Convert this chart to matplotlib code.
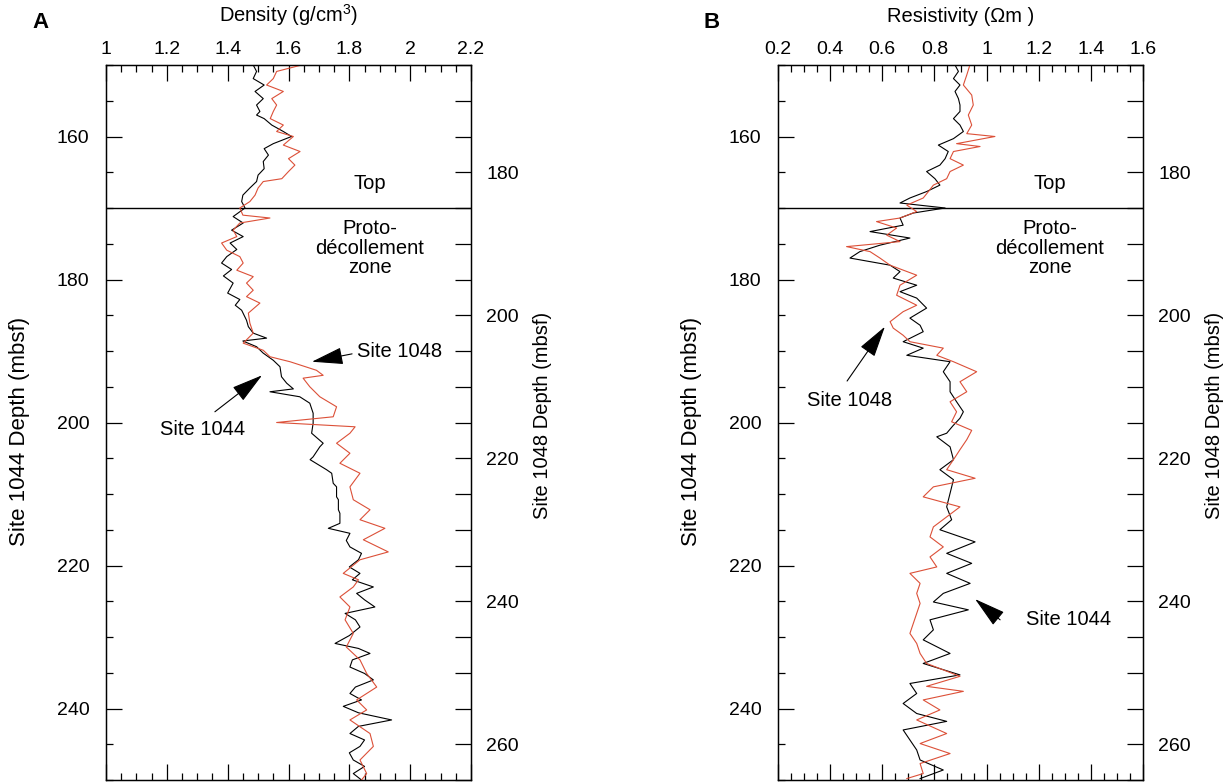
import numpy as np
import matplotlib
matplotlib.use('Agg')
import matplotlib.pyplot as plt
from matplotlib.ticker import MultipleLocator, FuncFormatter

plt.rcParams['font.family'] = ['Liberation Sans', 'DejaVu Sans']
plt.rcParams['mathtext.fontset'] = 'custom'
plt.rcParams['mathtext.rm'] = 'Liberation Sans'

# ---- Panel A: density ----
# Site 1044 (depth in Site 1044 mbsf)
dens_1044_depth = [150.0, 150.9, 151.9, 152.8, 153.7, 154.7, 155.6, 156.5, 157.0, 157.5,
                   158.4, 159.3, 160.0, 161.0, 161.7, 162.6, 163.5, 164.5, 165.4, 166.3,
                   167.2, 168.2, 169.1, 170.0, 171.2, 172.1, 173.1, 174.0, 174.9, 175.8,
                   176.8, 177.7, 178.6, 179.5, 180.5, 181.9, 182.8, 183.6, 184.3, 185.7,
                   186.6, 187.5, 188.2, 188.6, 189.4, 190.3, 191.3, 192.2, 193.6, 194.5,
                   195.3, 195.7, 196.4, 197.3, 198.7, 200.1, 201.5, 202.9, 203.4, 204.8,
                   205.2, 206.6, 207.1, 208.5, 209.0, 210.4, 210.8, 212.2, 212.7, 214.1,
                   214.8, 215.5, 216.5, 217.4, 218.3, 219.2, 220.2, 221.1, 222.0, 223.0,
                   223.9, 224.8, 225.8, 226.7, 227.6, 228.6, 229.8, 230.9, 231.6, 232.3,
                   233.2, 234.2, 235.1, 236.0, 237.0, 237.9, 238.8, 239.7, 240.6, 241.6,
                   242.5, 243.5, 244.4, 245.3, 246.2, 247.2, 248.1, 249.1, 250.0]
dens_1044 = [1.484, 1.495, 1.484, 1.52, 1.49, 1.517, 1.495, 1.506, 1.495, 1.52,
             1.545, 1.583, 1.61, 1.55, 1.52, 1.534, 1.517, 1.52, 1.50, 1.495,
             1.473, 1.45, 1.446, 1.457, 1.418, 1.451, 1.413, 1.451, 1.408, 1.43,
             1.397, 1.38, 1.413, 1.386, 1.418, 1.40, 1.44, 1.425, 1.446, 1.462,
             1.468, 1.484, 1.528, 1.45, 1.495, 1.517, 1.55, 1.572, 1.577, 1.594,
             1.616, 1.539, 1.637, 1.67, 1.681, 1.681, 1.676, 1.714, 1.703, 1.681,
             1.671, 1.725, 1.742, 1.747, 1.758, 1.758, 1.764, 1.764, 1.769, 1.769,
             1.731, 1.802, 1.79, 1.802, 1.84, 1.83, 1.80, 1.835, 1.81, 1.879,
             1.824, 1.85, 1.884, 1.786, 1.82, 1.835, 1.80, 1.753, 1.83, 1.868,
             1.81, 1.802, 1.85, 1.879, 1.82, 1.802, 1.84, 1.78, 1.83, 1.939,
             1.83, 1.802, 1.85, 1.835, 1.80, 1.813, 1.85, 1.813, 1.84]

# Site 1048 (depth in Site 1048 mbsf)
dens_1048_depth = [165.0, 165.9, 166.9, 167.8, 168.7, 169.7, 170.6, 171.5, 172.5, 173.4,
                   174.3, 175.0, 176.2, 177.1, 178.1, 179.0, 179.9, 180.9, 181.3, 182.2,
                   183.2, 184.1, 185.0, 186.0, 186.4, 187.1, 188.1, 189.0, 189.9, 190.9,
                   191.8, 192.7, 193.7, 194.6, 195.5, 196.5, 197.4, 198.3, 199.7, 201.1,
                   202.5, 203.9, 204.9, 205.8, 206.5, 207.7, 208.4, 208.8, 210.0, 211.4,
                   212.8, 214.2, 215.0, 215.6, 216.5, 217.9, 219.3, 220.7, 222.1, 224.0,
                   225.8, 227.2, 228.6, 229.8, 231.4, 233.1, 234.2, 236.1, 237.0, 238.0,
                   239.4, 240.8, 242.6, 244.5, 246.4, 248.2, 250.1, 252.0, 253.8, 255.2,
                   256.6, 258.5, 260.3, 262.2, 264.1, 265.0]
dens_1048 = [1.643, 1.561, 1.55, 1.528, 1.583, 1.545, 1.561, 1.55, 1.54, 1.583,
             1.561, 1.616, 1.583, 1.638, 1.60, 1.621, 1.60, 1.578, 1.517, 1.50,
             1.49, 1.473, 1.44, 1.45, 1.539, 1.44, 1.418, 1.43, 1.38, 1.397,
             1.44, 1.451, 1.43, 1.484, 1.462, 1.484, 1.462, 1.506, 1.468, 1.473,
             1.484, 1.451, 1.517, 1.539, 1.605, 1.692, 1.714, 1.648, 1.67, 1.703,
             1.758, 1.747, 1.561, 1.819, 1.802, 1.758, 1.802, 1.769, 1.835, 1.802,
             1.813, 1.868, 1.835, 1.917, 1.846, 1.928, 1.835, 1.78, 1.83, 1.813,
             1.769, 1.802, 1.786, 1.813, 1.79, 1.835, 1.857, 1.89, 1.824, 1.857,
             1.802, 1.868, 1.879, 1.835, 1.857, 1.84]

# ---- Panel B: resistivity ----
res_1044_depth = [150.0, 150.9, 151.9, 152.8, 153.7, 154.7, 155.6, 156.5, 157.5, 158.4,
                  159.3, 160.3, 161.2, 162.1, 163.1, 164.0, 164.9, 165.9, 166.8, 167.7,
                  168.6, 169.3, 170.0, 170.7, 171.4, 172.4, 173.3, 174.2, 175.2, 176.1,
                  177.0, 178.0, 178.9, 179.8, 180.8, 181.7, 182.6, 184.0, 185.4, 186.4,
                  187.3, 188.7, 189.6, 190.6, 191.5, 192.9, 194.3, 195.7, 197.1, 198.5,
                  199.4, 200.5, 201.5, 202.0, 203.4, 205.2, 206.6, 208.0, 209.9, 211.8,
                  213.6, 215.0, 216.7, 218.3, 219.7, 221.1, 222.5, 223.9, 225.1, 226.2,
                  227.6, 229.0, 230.4, 232.3, 233.7, 235.3, 236.5, 237.9, 239.3, 240.7,
                  241.8, 243.0, 244.4, 245.8, 247.2, 248.6, 249.8]
res_1044 = [0.879, 0.892, 0.873, 0.898, 0.879, 0.892, 0.898, 0.898, 0.873, 0.898,
            0.911, 0.873, 0.815, 0.853, 0.841, 0.821, 0.77, 0.802, 0.821, 0.77,
            0.706, 0.668, 0.841, 0.719, 0.668, 0.68, 0.553, 0.706, 0.591, 0.514,
            0.476, 0.63, 0.668, 0.642, 0.732, 0.668, 0.732, 0.77, 0.706, 0.745,
            0.757, 0.68, 0.757, 0.694, 0.86, 0.834, 0.86, 0.86, 0.885, 0.911,
            0.898, 0.87, 0.847, 0.809, 0.86, 0.873, 0.821, 0.873, 0.86, 0.847,
            0.866, 0.821, 0.956, 0.847, 0.943, 0.847, 0.937, 0.834, 0.796, 0.93,
            0.783, 0.796, 0.757, 0.86, 0.757, 0.898, 0.706, 0.732, 0.68, 0.732,
            0.847, 0.68, 0.706, 0.732, 0.745, 0.834, 0.745]

res_1048_depth = [165.0, 166.4, 167.8, 169.2, 170.6, 172.0, 173.4, 174.6, 175.0, 176.0,
                  176.4, 177.1, 178.1, 179.0, 179.9, 180.9, 181.8, 182.7, 183.6, 184.6,
                  185.5, 186.4, 186.9, 187.8, 188.8, 189.7, 190.4, 191.1, 192.0, 193.0,
                  194.4, 195.8, 197.2, 198.6, 199.5, 200.9, 201.8, 202.8, 203.7, 204.6,
                  205.6, 206.5, 207.9, 209.3, 210.7, 212.1, 213.5, 214.9, 216.1, 217.4,
                  218.8, 220.2, 221.6, 222.8, 224.0, 225.4, 226.8, 228.2, 229.6, 231.0,
                  232.4, 233.8, 235.2, 236.1, 237.5, 238.9, 240.3, 241.7, 243.1, 244.5,
                  245.9, 247.3, 248.7, 250.5, 251.9, 252.6, 253.8, 255.2, 256.6, 258.5,
                  259.9, 261.3, 262.7, 264.1, 264.8]
res_1048 = [0.936, 0.924, 0.911, 0.943, 0.949, 0.93, 0.943, 0.924, 1.032, 0.885,
            0.975, 0.873, 0.86, 0.911, 0.86, 0.847, 0.796, 0.777, 0.757, 0.694,
            0.732, 0.668, 0.578, 0.655, 0.617, 0.668, 0.463, 0.553, 0.591, 0.63,
            0.732, 0.668, 0.655, 0.732, 0.68, 0.63, 0.642, 0.68, 0.706, 0.834,
            0.809, 0.873, 0.962, 0.898, 0.924, 0.86, 0.885, 0.866, 0.943, 0.924,
            0.898, 0.873, 0.847, 0.956, 0.796, 0.757, 0.898, 0.847, 0.796, 0.783,
            0.834, 0.783, 0.809, 0.706, 0.745, 0.732, 0.745, 0.732, 0.719, 0.706,
            0.732, 0.745, 0.77, 0.898, 0.77, 0.911, 0.757, 0.821, 0.732, 0.847,
            0.745, 0.86, 0.745, 0.757, 0.694]

red = '#dc5038'
fs = 14
lab_fs = 14.5

fig = plt.figure(figsize=(12.3, 7.83), dpi=100)
axA = fig.add_axes([106/1230, 3/783, 365/1230, 715/783])
axB = fig.add_axes([778/1230, 3/783, 365/1230, 715/783])


def setup(ax, xlim, xlabel):
    ax.set_xlim(*xlim)
    ax.set_ylim(250, 150)
    ax.xaxis.set_major_locator(MultipleLocator(0.2))
    ax.xaxis.set_minor_locator(MultipleLocator(0.05))
    ax.xaxis.set_major_formatter(FuncFormatter(lambda v, p: '%g' % round(v, 2)))
    ax.tick_params(axis='x', which='both', direction='in', top=True, bottom=True,
                   labeltop=True, labelbottom=False, labelsize=fs, pad=5)
    ax.tick_params(axis='x', which='major', length=11.5, width=0.9)
    ax.tick_params(axis='x', which='minor', length=5, width=0.9)
    ax.set_yticks([160, 180, 200, 220, 240])
    ax.yaxis.set_minor_locator(MultipleLocator(5))
    ax.tick_params(axis='y', which='both', direction='in', left=True, right=False,
                   labelsize=fs, pad=12)
    ax.tick_params(axis='y', which='major', length=11.5, width=0.9)
    ax.tick_params(axis='y', which='minor', length=5, width=0.9)
    for s in ax.spines.values():
        s.set_linewidth(1.0)
    ax.set_xlabel(xlabel, fontsize=lab_fs, va='center')
    ax.xaxis.set_label_position('top')
    ax.xaxis.set_label_coords(0.5, 1.060)
    ax.set_ylabel('Site 1044 Depth (mbsf)', fontsize=16, va='center')
    ax.yaxis.set_label_coords(-0.236, 0.487)
    ax.axhline(170, color='k', lw=1.0)

    tw = ax.twinx()
    tw.set_ylim(265, 165)
    tw.set_yticks([180, 200, 220, 240, 260])
    tw.yaxis.set_minor_locator(MultipleLocator(5))
    tw.tick_params(axis='y', which='both', direction='in', length=11.5, width=0.9,
                   labelsize=fs, pad=11)
    tw.set_ylabel('Site 1048 Depth (mbsf)', fontsize=lab_fs, va='center')
    tw.yaxis.set_label_coords(1.195, 0.51)
    return tw


twA = setup(axA, (1, 2.2), 'Density (g/cm$^{3}$)')
twB = setup(axB, (0.2, 1.6), 'Resistivity (\u03a9m )')

twA.plot(dens_1048, dens_1048_depth, color=red, lw=0.8)
axA.plot(dens_1044, dens_1044_depth, color='k', lw=0.8)
twB.plot(res_1048, res_1048_depth, color=red, lw=0.8)
axB.plot(res_1044, res_1044_depth, color='k', lw=0.8)

arrow = dict(arrowstyle='-|>,head_length=1.1,head_width=0.3', mutation_scale=18,
             lw=0.8, color='k', shrinkA=0, shrinkB=0)

for ax, xt in [(axA, 1.868), (axB, 1.243)]:
    ax.text(xt, 166.6, 'Top', ha='center', va='center', fontsize=lab_fs)
    ax.text(xt, 175.6, 'Proto-\nd\u00e9collement\nzone', ha='center', va='center',
            fontsize=lab_fs, linespacing=1.05)

axA.annotate('', xy=(1.677, 191.5), xytext=(1.809, 190.4), arrowprops=arrow)
axA.text(1.825, 190.1, 'Site 1048', ha='left', va='center', fontsize=lab_fs)
axA.annotate('', xy=(1.513, 193.4), xytext=(1.358, 198.5), arrowprops=arrow)
axA.text(1.319, 201.0, 'Site 1044', ha='center', va='center', fontsize=lab_fs)

axB.annotate('', xy=(0.610, 186.6), xytext=(0.465, 194.2), arrowprops=arrow)
axB.text(0.476, 196.9, 'Site 1048', ha='center', va='center', fontsize=lab_fs)
axB.annotate('', xy=(0.956, 224.7), xytext=(1.052, 227.6), arrowprops=arrow)
axB.text(1.316, 227.6, 'Site 1044', ha='center', va='center', fontsize=lab_fs)

fig.text(40/1230, 1 - 22/783, 'A', fontsize=16, fontweight='bold', ha='center', va='center')
fig.text(712/1230, 1 - 22/783, 'B', fontsize=16, fontweight='bold', ha='center', va='center')

fig.savefig('out.png', dpi=100)
